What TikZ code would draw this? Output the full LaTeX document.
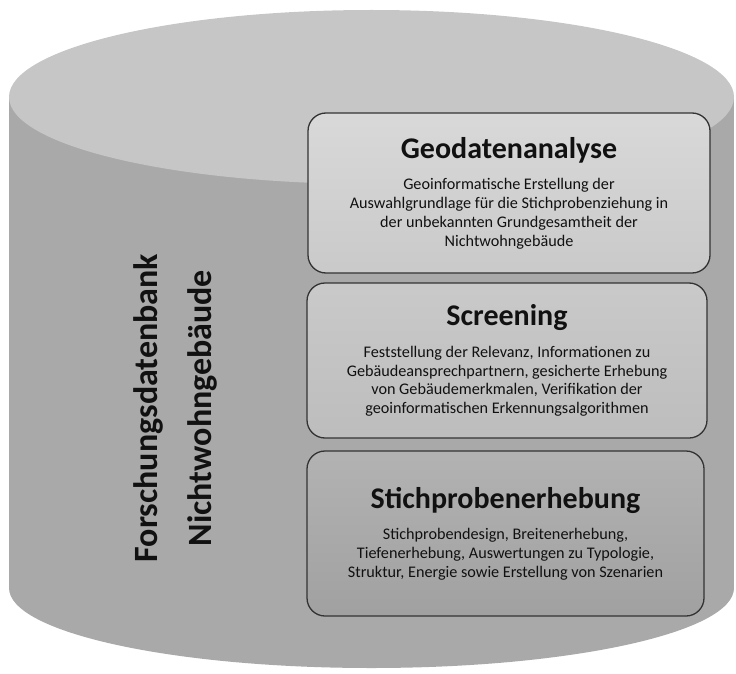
\documentclass[tikz,border=0pt]{standalone}
\usepackage{fontspec}
\setmainfont{Carlito}
\usetikzlibrary{positioning}

\definecolor{cyltop}{HTML}{C6C6C6}
\definecolor{cylside}{HTML}{A9A9A9}
\definecolor{inktext}{HTML}{111111}

\newcommand{\cardhead}[1]{{\fontsize{30}{35}\selectfont\bfseries #1}\\[13pt]}

\begin{document}
\begin{tikzpicture}
    [x=1pt, y=-1pt,
    card/.style={draw=black!80, line width=1.3pt, rounded corners=18pt,
      minimum width=400pt, align=center, inner sep=0pt, text=inktext,
      font=\fontsize{16.2}{18.7}\selectfont},
    side/.style={fill=cylside},
    ]
    \useasboundingbox (0,0) rectangle (736,674);
    % Zylinder
    \fill[side] (9,97) rectangle (734,588);
    \fill[side] (371.5,588) ellipse [x radius=362.5, y radius=80];
    \fill[cyltop] (371.5,97) ellipse [x radius=362.5, y radius=87];
    % Beschriftung
    \node[rotate=90, align=center, text=inktext,
      font=\fontsize{34}{54}\selectfont\bfseries] (fdb) at (175,408)
      {Forschungsdatenbank\\Nichtwohngebäude};
    % Module
    \node[card, minimum width=402pt, minimum height=160pt,
      top color=black!15, bottom color=black!21] (geo) at (509,193)
      {\cardhead{Geodatenanalyse}Geoinformatische Erstellung der\\
       Auswahlgrundlage für die Stichprobenziehung in\\
       der unbekannten Grundgesamtheit der\\
       Nichtwohngebäude};
    \node[card, minimum width=400pt, minimum height=155pt,
      top color=black!21, bottom color=black!26] (scr) at (507,360.5)
      {\cardhead{Screening}Feststellung der Relevanz, Informationen zu\\
       Gebäudeansprechpartnern, gesicherte Erhebung\\
       von Gebäudemerkmalen, Verifikation der\\
       geoinformatischen Erkennungsalgorithmen};
    \node[card, minimum width=397pt, minimum height=165pt,
      top color=black!30, bottom color=black!37] (sph) at (505.5,533.5)
      {\cardhead{Stichprobenerhebung}Stichprobendesign, Breitenerhebung,\\
       Tiefenerhebung, Auswertungen zu Typologie,\\
       Struktur, Energie sowie Erstellung von Szenarien};
\end{tikzpicture}
\end{document}
